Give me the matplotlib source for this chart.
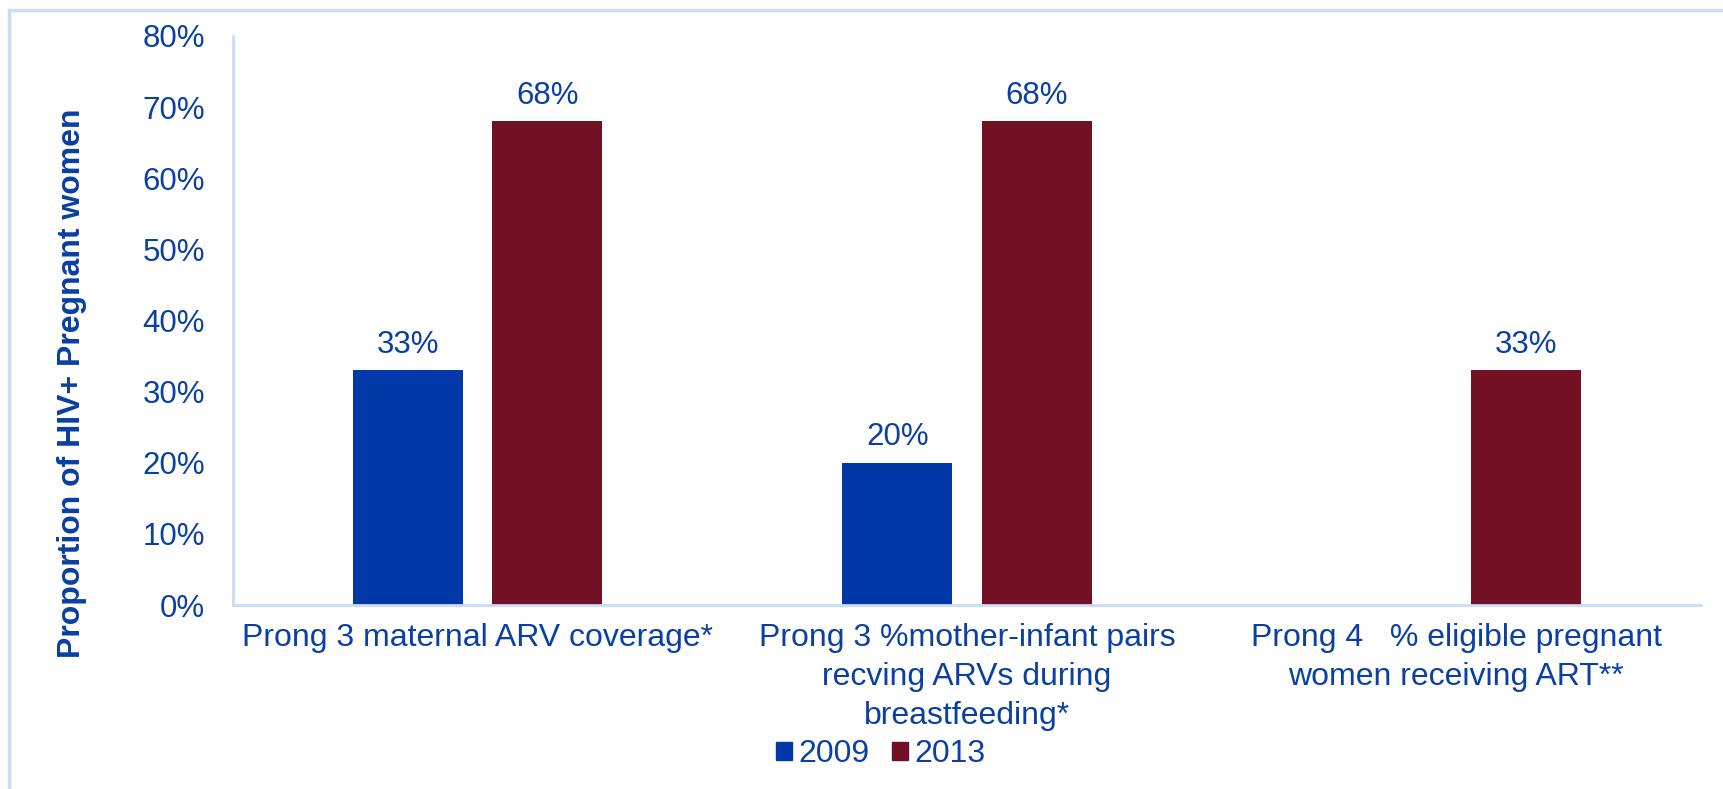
import matplotlib.pyplot as plt
import numpy as np
from matplotlib.patches import Rectangle

categories = ["Prong 3 maternal ARV coverage*",
              "Prong 3 %mother-infant pairs\nrecving ARVs during\nbreastfeeding*",
              "Prong 4   % eligible pregnant\nwomen receiving ART**"]
years = ["2009", "2013"]
vals_2009 = [33, 20, None]
vals_2013 = [68, 68, 33]
yticks = [0, 10, 20, 30, 40, 50, 60, 70, 80]

blue = '#0038A8'
red = '#721024'
text_col = '#0A3FA3'
line_col = '#C9DCF8'

plt.rcParams['font.family'] = ['Liberation Sans', 'DejaVu Sans']

fig = plt.figure(figsize=(17.23, 7.89), dpi=100)
ax = fig.add_axes([0.1352, 0.2332, 0.8520, 0.7212])

x = np.arange(len(categories))
w = 0.225
off = 0.1425
for series, color, sign in [(vals_2009, blue, -1), (vals_2013, red, 1)]:
    for i, v in enumerate(series):
        if v is None:
            continue
        ax.bar(x[i] + sign * off, v, width=w, color=color)
        ax.text(x[i] + sign * off, v + 1.5, f"{v}%", ha='center', va='bottom',
                fontsize=22.5, color=text_col)

ax.set_xlim(-0.5, 2.5)
ax.set_ylim(0, 80)
ax.set_yticks(yticks)
ax.set_yticklabels([f"{t}%" for t in yticks], fontsize=22.5, color=text_col)
ax.set_xticks(x)
ax.set_xticklabels(categories, fontsize=23, color=text_col, linespacing=1.4)
ax.tick_params(axis='both', length=0)
ax.tick_params(axis='y', pad=20)
ax.tick_params(axis='x', pad=13)
for s in ['top', 'right']:
    ax.spines[s].set_visible(False)
for s in ['left', 'bottom']:
    ax.spines[s].set_color(line_col)
    ax.spines[s].set_linewidth(2)

fig.text(0.042, 0.5146, "Proportion of HIV+ Pregnant women", rotation=90,
         ha='center', va='center', fontsize=23, fontweight='bold', color=text_col)

handles = [Rectangle((0, 0), 1, 1, color=blue), Rectangle((0, 0), 1, 1, color=red)]
leg = fig.legend(handles, years, loc='center', bbox_to_anchor=(0.511, 0.044),
                 ncol=2, frameon=False, fontsize=23, handlelength=0.5,
                 handleheight=0.5, handletextpad=0.2, columnspacing=0.7)
for t in leg.get_texts():
    t.set_color(text_col)

# outer frame (clipped at right/bottom)
fig.patches.append(Rectangle((9 / 1723, -0.5), 1.5, 1.5 - 10 / 789, transform=fig.transFigure,
                             fill=False, edgecolor=line_col, linewidth=2.5))

fig.savefig("out.png", dpi=100)
